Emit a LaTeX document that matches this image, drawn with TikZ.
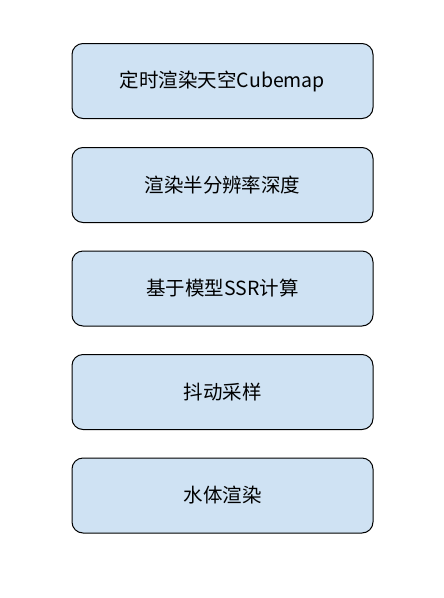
\documentclass[tikz,border=0pt]{standalone}
\usepackage{fontspec}
\newfontfamily\cjk{Noto Sans CJK SC}
\definecolor{boxblue}{HTML}{CFE2F3}
\begin{document}
\begin{tikzpicture}[x=1pt, y=1pt,
  stagebox/.style={draw=black, fill=boxblue, line width=1pt, rectangle, rounded corners=11pt, align=center, minimum width=301pt, minimum height=75pt, font=\cjk\fontsize{19.5pt}{23pt}\selectfont}]
\useasboundingbox (0,0) rectangle (444,-598);
\node[stagebox] (sky) at (222.5,-81) {定时渲染天空Cubemap};
\node[stagebox] (depth) at (222.5,-185) {渲染半分辨率深度};
\node[stagebox] (ssr) at (222.5,-288.5) {基于模型SSR计算};
\node[stagebox] (jitter) at (222.5,-392) {抖动采样};
\node[stagebox] (water) at (222.5,-495.5) {水体渲染};
\end{tikzpicture}
\end{document}
